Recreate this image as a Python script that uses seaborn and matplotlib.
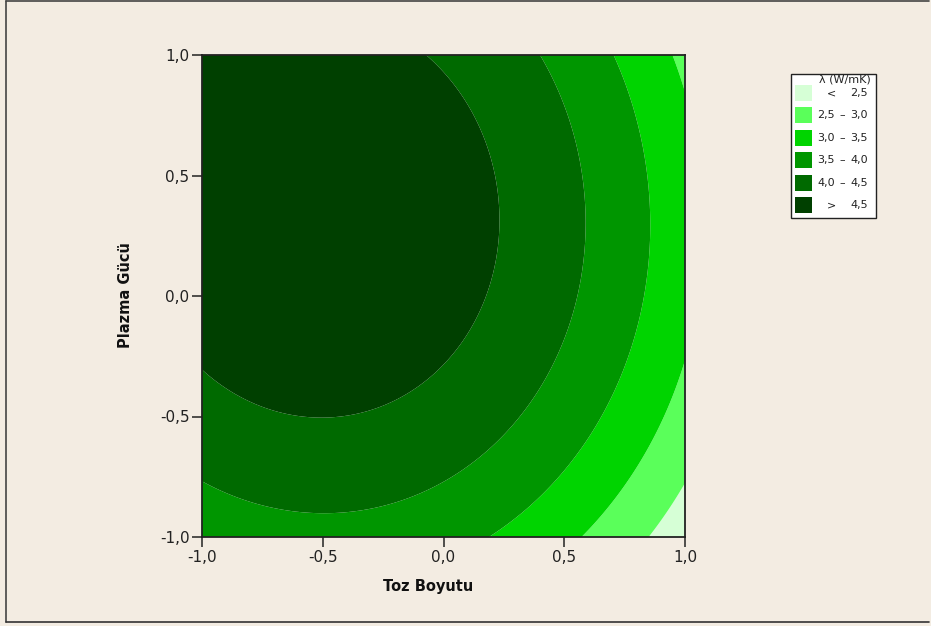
import numpy as np
import matplotlib
matplotlib.use("Agg")
import matplotlib.pyplot as plt
from matplotlib.patches import Rectangle
from matplotlib.lines import Line2D
import seaborn as sns

# Coded factor levels shown on both axes
tick_values = [-1.0, -0.5, 0.0, 0.5, 1.0]
tick_labels = ["-1,0", "-0,5", "0,0", "0,5", "1,0"]

# Fitted quadratic response model for thermal conductivity λ (W/mK)
# λ = b0 + b_toz·T + b_plazma·P + b_toz2·T² + b_plazma2·P² + b_inter·T·P
b0 = 4.66
b_toz = -0.7756
b_plazma = 0.39
b_toz2 = -0.748
b_plazma2 = -0.605
b_inter = -0.0394

# Contour class breaks and fill colours (lowest class first)
band_breaks = [2.5, 3.0, 3.5, 4.0, 4.5]
band_colors = ["#d6ffd6", "#5aff5a", "#00d400", "#009600", "#006a00", "#004000"]

x_name = "Toz Boyutu"
y_name = "Plazma Gücü"
legend_title = "λ (W/mK)"

bg = "#f3ece2"
W, H = 931, 626

sns.set_theme(style="white")
plt.rcParams["font.family"] = ["DejaVu Sans"]
plt.rcParams["axes.unicode_minus"] = False


def fx(px):
    return px / W


def fy(py):
    return 1 - py / H


fig = plt.figure(figsize=(W / 100, H / 100), dpi=100, facecolor=bg)
ax = fig.add_axes([fx(202), fy(537), (685 - 202) / W, (537 - 55) / H])

t = np.linspace(-1, 1, 401)
T, P = np.meshgrid(t, t)
Z = (b0 + b_toz * T + b_plazma * P + b_toz2 * T ** 2
     + b_plazma2 * P ** 2 + b_inter * T * P)

levels = [min(Z.min(), band_breaks[0]) - 1] + band_breaks + [max(Z.max(), band_breaks[-1]) + 1]
ax.contourf(T, P, Z, levels=levels, colors=band_colors, antialiased=True)

ax.set_xlim(-1, 1)
ax.set_ylim(-1, 1)
ax.set_xticks(tick_values)
ax.set_xticklabels(tick_labels)
ax.set_yticks(tick_values)
ax.set_yticklabels(tick_labels)
ax.tick_params(axis="both", direction="out", length=7, width=1.1, color="#222222",
               labelsize=11, labelcolor="#222222", pad=2,
               bottom=True, left=True, top=False, right=False)
for s in ax.spines.values():
    s.set_visible(True)
    s.set_color("#222222")
    s.set_linewidth(1.3)
ax.set_xlabel("")
ax.set_ylabel("")

fig.text(fx(428), fy(587), x_name, ha="center", va="center",
         fontsize=10.5, fontweight="bold", color="#111111")
fig.text(fx(126), fy(295), y_name, ha="center", va="center", rotation=90,
         fontsize=10.5, fontweight="bold", color="#111111")

# Legend box
fig.add_artist(Rectangle((fx(791), fy(218)), 85 / W, 144 / H, transform=fig.transFigure,
                         facecolor="white", edgecolor="#222222", linewidth=1.0))
fig.text(fx(845), fy(80), legend_title, ha="center", va="center", fontsize=8, color="#222222")


def fmt(v):
    return f"{v:.1f}".replace(".", ",")


for i, col in enumerate(band_colors):
    yc = 93 + 22.4 * i
    fig.add_artist(Rectangle((fx(795), fy(yc + 8)), 17 / W, 16 / H, transform=fig.transFigure,
                             facecolor=col, edgecolor="none"))
    if i == 0:
        fig.text(fx(836), fy(yc), "<", ha="right", va="center", fontsize=8, color="#222222")
        fig.text(fx(868), fy(yc), fmt(band_breaks[0]), ha="right", va="center", fontsize=8, color="#222222")
    elif i == len(band_colors) - 1:
        fig.text(fx(836), fy(yc), ">", ha="right", va="center", fontsize=8, color="#222222")
        fig.text(fx(868), fy(yc), fmt(band_breaks[-1]), ha="right", va="center", fontsize=8, color="#222222")
    else:
        fig.text(fx(817), fy(yc), fmt(band_breaks[i - 1]), ha="left", va="center", fontsize=8, color="#222222")
        fig.text(fx(842), fy(yc), "–", ha="center", va="center", fontsize=8, color="#222222")
        fig.text(fx(868), fy(yc), fmt(band_breaks[i]), ha="right", va="center", fontsize=8, color="#222222")

# Window frame
for (x0, y0, x1, y1, c) in [(5.5, 0.5, 5.5, 621.5, "#444444"),
                            (5.5, 0.5, 929, 0.5, "#444444"),
                            (5.5, 621.5, 929, 621.5, "#333333")]:
    fig.add_artist(Line2D([fx(x0), fx(x1)], [fy(y0), fy(y1)], transform=fig.transFigure,
                          color=c, linewidth=1.2))

fig.savefig("out.png", dpi=100, facecolor=bg)
